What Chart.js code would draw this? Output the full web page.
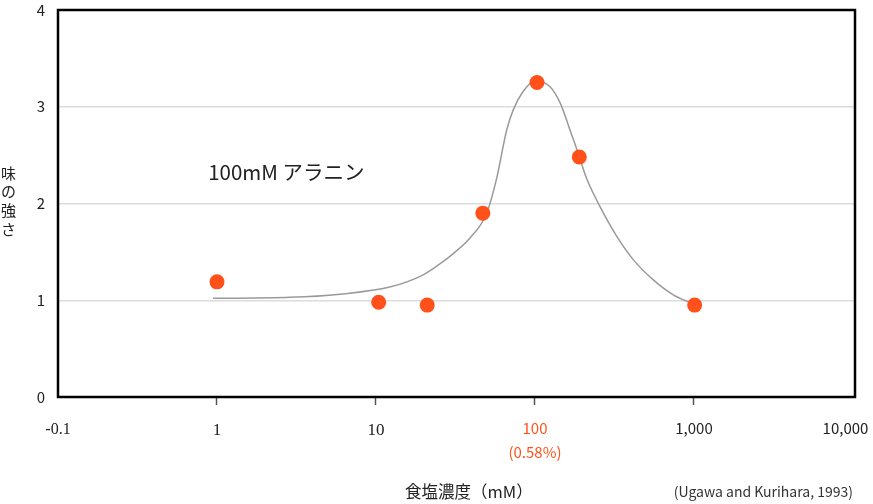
<!DOCTYPE html>
<html>
<head>
<meta charset="utf-8">
<script src="https://cdn.jsdelivr.net/npm/chart.js@4/dist/chart.umd.min.js"></script>
<style>
  html, body { margin: 0; padding: 0; background: #fff; }
  #wrap { width: 873px; height: 504px; position: relative; }
</style>
</head>
<body>
<div id="wrap"><canvas id="c" width="873" height="504"></canvas></div>
<script>
// ---- data ----
const saltConc = [1, 10.4, 21, 47, 103, 190, 1010];            // mM
const tasteIntensity = [1.19, 0.98, 0.95, 1.90, 3.25, 2.48, 0.95];

const curveConc = [0.944, 2.88, 5.94, 12.2, 19.8, 26.4, 30.5, 39, 49.7, 57.4, 66.4, 73.1, 84.4, 100, 124, 144, 166, 186, 211, 256, 327, 415, 555, 741, 985];
const curveIntensity = [1.02, 1.03, 1.063, 1.136, 1.263, 1.40, 1.48, 1.643, 1.90, 2.26, 2.76, 2.97, 3.16, 3.27, 3.21, 3.04, 2.76, 2.53, 2.26, 1.97, 1.66, 1.42, 1.21, 1.056, 0.963];

const xTickValues = [0.1, 1, 10, 100, 1000, 10000];
const xTickLabels = [["-0.1"], ["1"], ["10"], ["100", "(0.58%)"], ["1,000"], ["10,000"]];
const yTickValues = [0, 1, 2, 3, 4];

const yAxisTitle = "味の強さ";
const xAxisTitle = "食塩濃度（mM）";
const sourceText = "(Ugawa and Kurihara, 1993)";
const annotationText = "100mM アラニン";

// ---- styles ----
const ORANGE = "#ff5119";
const SANS = "'Noto Sans CJK JP', 'Noto Sans', sans-serif";
const SERIF = "'Liberation Serif', 'DejaVu Serif', serif";

const scatterPts = saltConc.map((x, i) => ({ x: x, y: tasteIntensity[i] }));
const curvePts = curveConc.map((x, i) => ({ x: x, y: curveIntensity[i] }));

const decorPlugin = {
  id: 'decor',
  beforeDatasetsDraw(chart) {
    const { ctx, chartArea: a } = chart;
    ctx.save();
    ctx.strokeStyle = '#000';
    ctx.lineWidth = 2.5;
    ctx.strokeRect(a.left, a.top, a.right - a.left, a.bottom - a.top);
    ctx.restore();
  },
  afterDraw(chart) {
    const { ctx } = chart;
    const xs = chart.scales.x, ys = chart.scales.y;
    ctx.save();
    ctx.fillStyle = '#222';
    // vertical stacked y-axis title
    ctx.font = "15px " + SANS;
    ctx.textAlign = 'left';
    ctx.textBaseline = 'middle';
    const chars = Array.from(yAxisTitle);
    chars.forEach((ch, i) => ctx.fillText(ch, 1, 173 + i * 18.7));
    // annotation text
    ctx.font = "20.5px " + SANS;
    ctx.textAlign = 'left';
    ctx.fillText(annotationText, xs.getPixelForValue(0.88), ys.getPixelForValue(2.32));
    // x-axis title
    ctx.font = "16.5px " + SANS;
    ctx.textAlign = 'left';
    ctx.fillText(xAxisTitle, 405, 492);
    // source
    ctx.font = "14px " + SANS;
    ctx.fillStyle = '#333';
    ctx.textAlign = 'right';
    ctx.fillText(sourceText, 853, 492);
    ctx.restore();
  }
};

new Chart(document.getElementById('c'), {
  data: {
    datasets: [
      {
        type: 'scatter',
        label: 'points',
        data: scatterPts,
        backgroundColor: ORANGE,
        borderColor: ORANGE,
        pointRadius: 7.5,
        pointHoverRadius: 7.5,
        borderWidth: 0,
        order: 0
      },
      {
        type: 'line',
        label: 'curve',
        data: curvePts,
        borderColor: '#9a9a9a',
        borderWidth: 1.5,
        pointRadius: 0,
        fill: false,
        cubicInterpolationMode: 'monotone',
        order: 1
      }
    ]
  },
  options: {
    responsive: false,
    animation: false,
    layout: { padding: { top: 10, right: 18, left: 0, bottom: 0 } },
    plugins: { legend: { display: false }, tooltip: { enabled: false } },
    scales: {
      x: {
        type: 'logarithmic',
        min: 0.1,
        max: 10300,
        afterBuildTicks(scale) { scale.ticks = xTickValues.map(v => ({ value: v })); },
        afterFit(scale) { scale.height = 107; scale.paddingLeft = 0; scale.paddingRight = 0; },
        border: { display: false },
        grid: {
          drawOnChartArea: false,
          drawTicks: true,
          tickLength: 8,
          tickWidth: 1.5,
          tickColor: (ctx) => (ctx.index === 0 || ctx.index === xTickValues.length - 1) ? 'rgba(0,0,0,0)' : '#555'
        },
        ticks: {
          autoSkip: false,
          maxRotation: 0,
          padding: 12,
          // the last label sits a little left of its tick in the reference; a trailing em space shifts it
          callback: (v, i) => i === xTickLabels.length - 1 ? [xTickLabels[i][0] + "\u2003"] : xTickLabels[i],
          color: (ctx) => ctx.index === 3 ? ORANGE : '#222',
          font: (ctx) => {
            const i = ctx.index;
            if (i <= 2) return { family: SERIF, size: i === 0 ? 16 : 17, lineHeight: 1.55 };
            return { family: SANS, size: 15, lineHeight: 1.55 };
          }
        }
      },
      y: {
        type: 'linear',
        min: 0,
        max: 4,
        afterBuildTicks(scale) { scale.ticks = yTickValues.map(v => ({ value: v })); },
        afterFit(scale) { scale.width = 58; scale.paddingTop = 0; scale.paddingBottom = 0; },
        border: { display: false },
        grid: {
          drawTicks: false,
          color: '#dcdcdc',
          lineWidth: 1.5
        },
        ticks: {
          padding: 13,
          color: '#222',
          font: { family: SANS, size: 15 },
          callback: (v) => String(v)
        }
      }
    }
  },
  plugins: [decorPlugin]
});
</script>
</body>
</html>
